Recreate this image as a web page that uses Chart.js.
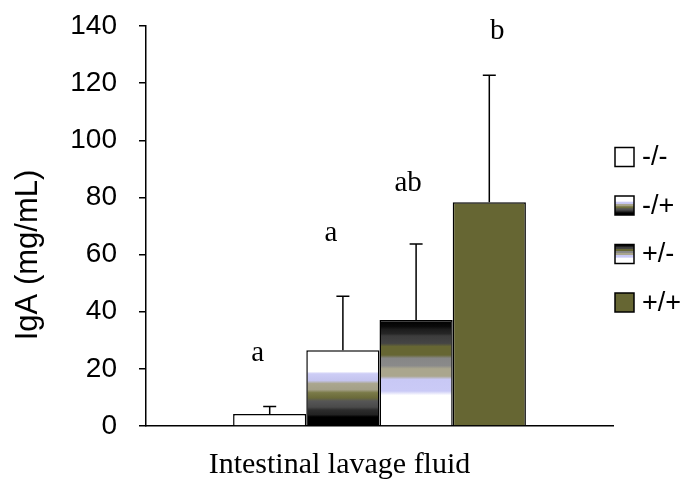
<!DOCTYPE html>
<html>
<head>
<meta charset="utf-8">
<script src="https://cdn.jsdelivr.net/npm/chart.js@4.4.0/dist/chart.umd.min.js"></script>
<style>
  html, body { margin: 0; padding: 0; background: #fff; }
  #wrap { width: 685px; height: 480px; }
</style>
</head>
<body>
<div id="wrap"><canvas id="igaChart" width="685" height="480"></canvas></div>
<script>
// values
var categories = ['Intestinal lavage fluid'];
var groups = ['-/-', '-/+', '+/-', '+/+'];
var means = [4.2, 26.5, 37.1, 78.3];
var sds = [2.6, 18.9, 26.6, 44.5];
var letters = ['a', 'a', 'ab', 'b'];
var letterAt = [25.5, 67.5, 85, 138];
var yMax = 140, yStep = 20;

// banded fills (top -> bottom of a bar)
var stopsMinusPlus = [
  [0, '#ffffff'], [0.28, '#ffffff'], [0.31, '#cdcdf6'], [0.40, '#c4c4ee'],
  [0.44, '#aaa68e'], [0.52, '#a4a088'], [0.56, '#7a7a48'], [0.63, '#6a6a3a'],
  [0.67, '#565656'], [0.75, '#4a4a4a'], [0.79, '#2c2c2c'], [0.85, '#222222'],
  [0.88, '#000000'], [1, '#000000']
];
var stopsPlusMinus = [
  [0, '#000000'], [0.06, '#0a0a0a'], [0.09, '#1c1c1c'], [0.13, '#262626'],
  [0.15, '#3c3c3c'], [0.22, '#444444'], [0.25, '#666633'], [0.33, '#666633'],
  [0.36, '#868686'], [0.43, '#8a8a8a'], [0.46, '#aaa68e'], [0.53, '#aaa68e'],
  [0.56, '#c8c8f5'], [0.67, '#cacaf6'], [0.71, '#ffffff'], [1, '#ffffff']
];

function makeGradient(ctx, stops, top, bottom) {
  var g = ctx.createLinearGradient(0, top, 0, bottom);
  stops.forEach(function (s) { g.addColorStop(s[0], s[1]); });
  return g;
}

function barFill(stops) {
  return function (c) {
    var chart = c.chart;
    if (!chart.chartArea || !c.parsed) return stops[0][1];
    var y = chart.scales.y;
    return makeGradient(chart.ctx, stops, y.getPixelForValue(c.parsed.y), y.getPixelForValue(0));
  };
}

var fills = ['#ffffff', barFill(stopsMinusPlus), barFill(stopsPlusMinus), '#666633'];
var legendFills = ['#ffffff', stopsMinusPlus, stopsPlusMinus, '#666633'];

var datasets = groups.map(function (g, i) {
  return {
    label: g,
    data: [means[i]],
    backgroundColor: fills[i],
    borderColor: '#000',
    borderWidth: 1.5,
    borderSkipped: 'bottom',
    barPercentage: 1,
    categoryPercentage: 0.627
  };
});

var errorBars = {
  id: 'errorBars',
  afterDatasetsDraw: function (chart) {
    var ctx = chart.ctx, y = chart.scales.y;
    var shift = [-12, -12, -8, 8];
    ctx.save();
    ctx.strokeStyle = '#000';
    ctx.lineWidth = 1.5;
    chart.data.datasets.forEach(function (ds, i) {
      var bar = chart.getDatasetMeta(i).data[0];
      var top = y.getPixelForValue(means[i] + sds[i]);
      var base = y.getPixelForValue(means[i]);
      ctx.beginPath();
      ctx.moveTo(bar.x, base);
      ctx.lineTo(bar.x, top);
      ctx.moveTo(bar.x - 6.5, top);
      ctx.lineTo(bar.x + 6.5, top);
      ctx.stroke();

      ctx.fillStyle = '#000';
      ctx.font = '29px "Liberation Serif", "Times New Roman", serif';
      ctx.textAlign = 'center';
      ctx.textBaseline = 'middle';
      ctx.fillText(letters[i], bar.x + shift[i], y.getPixelForValue(letterAt[i]));
    });
    ctx.restore();
  }
};

var sideLegend = {
  id: 'sideLegend',
  afterDraw: function (chart) {
    var ctx = chart.ctx;
    var area = chart.chartArea;
    ctx.save();
    // y axis title
    ctx.translate(28, 255);
    ctx.rotate(-Math.PI / 2);
    ctx.fillStyle = '#000';
    ctx.font = '31px "Liberation Sans", Arial, sans-serif';
    ctx.textAlign = 'center';
    ctx.textBaseline = 'middle';
    ctx.fillText('IgA (mg/mL)', 0, 0);
    ctx.restore();

    ctx.save();
    var bx = area.right + 2, size = 19;
    groups.forEach(function (g, i) {
      var cy = 157 + i * 48.5;
      var top = cy - size / 2;
      var f = legendFills[i];
      ctx.fillStyle = typeof f === 'string' ? f : makeGradient(ctx, f, top, top + size);
      ctx.fillRect(bx, top, size, size);
      ctx.strokeStyle = '#000';
      ctx.lineWidth = 1.5;
      ctx.strokeRect(bx, top, size, size);
      ctx.fillStyle = '#000';
      ctx.font = '27px "Liberation Sans", Arial, sans-serif';
      ctx.textAlign = 'left';
      ctx.textBaseline = 'middle';
      ctx.fillText(g, bx + 27, cy + 1);
    });
    ctx.restore();
  }
};

var ctx = document.getElementById('igaChart').getContext('2d');
var chart = new Chart(ctx, {
  type: 'bar',
  data: { labels: categories, datasets: datasets },
  options: {
    responsive: false,
    animation: false,
    devicePixelRatio: 1,
    layout: { padding: { top: 26, right: 72, bottom: 0, left: 0 } },
    plugins: { legend: { display: false }, tooltip: { enabled: false } },
    scales: {
      x: {
        offset: true,
        grid: { display: false, drawTicks: false },
        border: { display: true, color: '#000', width: 1.5 },
        ticks: {
          color: '#000',
          padding: 21,
          labelOffset: -40,
          font: { family: '"Liberation Serif", "Times New Roman", serif', size: 30 }
        },
        afterFit: function (s) { s.height = 54; s.paddingLeft = 0; s.paddingRight = 0; }
      },
      y: {
        min: 0,
        max: yMax,
        ticks: {
          stepSize: yStep,
          color: '#000',
          padding: 22,
          font: { family: '"Liberation Sans", Arial, sans-serif', size: 28 }
        },
        grid: { display: true, drawOnChartArea: false, drawTicks: true, tickLength: 7, color: '#000', lineWidth: 1.5 },
        border: { display: true, color: '#000', width: 1.5 },
        afterFit: function (s) { s.width = 146; s.paddingTop = 0; s.paddingBottom = 0; }
      }
    }
  },
  plugins: [errorBars, sideLegend]
});
</script>
</body>
</html>
